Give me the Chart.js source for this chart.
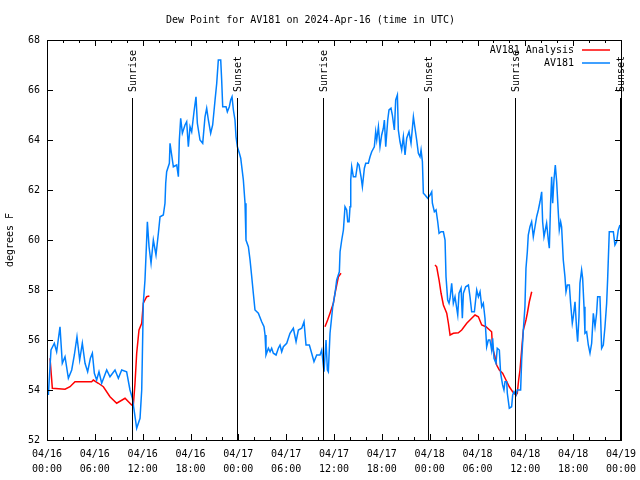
<!DOCTYPE html>
<html>
<head>
<meta charset="utf-8">
<script src="https://cdn.jsdelivr.net/npm/chart.js@4.4.1/dist/chart.umd.min.js"></script>
<style>
  html, body { margin: 0; padding: 0; background: #fff; }
  canvas { display: block; }
</style>
</head>
<body>
<canvas id="dewChart" width="640" height="480"></canvas>
<script>
// hours since 04/16 00:00 UTC
const stationHours = [
  0.17, 0.50, 0.92, 1.21, 1.63, 1.92, 2.26, 2.68, 3.10, 3.43, 3.76, 4.10, 4.43, 4.77, 5.10, 5.44,
  5.69, 5.94, 6.23, 6.52, 6.86, 7.49, 7.90, 8.53, 8.95, 9.37, 9.99, 10.41, 10.71, 11.25, 11.67, 11.88,
  11.96, 12.08, 12.29, 12.50, 12.59, 12.80, 13.05, 13.34, 13.67, 13.97, 14.18, 14.59, 14.80, 14.89, 15.01, 15.35,
  15.43, 15.85, 16.27, 16.48, 16.60, 16.77, 16.98, 17.31, 17.52, 17.73, 17.94, 18.15, 18.44, 18.69, 18.86, 19.19,
  19.53, 19.82, 20.03, 20.24, 20.53, 20.78, 21.08, 21.29, 21.49, 21.79, 21.91, 22.04, 22.46, 22.62, 22.87, 23.04,
  23.21, 23.38, 23.58, 23.71, 23.88, 24.13, 24.30, 24.63, 24.84, 24.96, 25.26, 25.47, 25.68, 25.88, 26.09, 26.51,
  26.93, 27.22, 27.35, 27.47, 27.77, 27.98, 28.18, 28.39, 28.73, 29.02, 29.23, 29.44, 29.65, 30.07, 30.48, 30.90,
  31.24, 31.53, 31.95, 32.24, 32.49, 32.91, 33.20, 33.49, 33.83, 34.25, 34.46, 34.75, 35.00, 35.17, 35.29, 35.50,
  35.84, 36.13, 36.34, 36.67, 36.76, 36.97, 37.18, 37.38, 37.59, 37.72, 37.89, 38.01, 38.10, 38.22, 38.43, 38.72,
  38.97, 39.14, 39.39, 39.56, 39.81, 39.98, 40.31, 40.52, 40.73, 41.06, 41.23, 41.36, 41.57, 41.77, 41.98, 42.19,
  42.32, 42.49, 42.74, 42.90, 43.15, 43.32, 43.57, 43.74, 43.95, 44.07, 44.28, 44.49, 44.70, 44.91, 45.12, 45.41,
  45.66, 45.96, 46.16, 46.37, 46.58, 46.79, 46.92, 47.09, 47.21, 47.42, 47.75, 48.05, 48.26, 48.34, 48.59, 48.80,
  49.01, 49.18, 49.43, 49.72, 49.93, 50.05, 50.26, 50.43, 50.56, 50.76, 50.97, 51.18, 51.39, 51.52, 51.68, 51.94,
  52.10, 52.23, 52.52, 52.86, 53.06, 53.27, 53.61, 53.90, 54.11, 54.32, 54.53, 54.73, 54.94, 55.15, 55.36, 55.56,
  55.77, 55.90, 56.07, 56.32, 56.48, 56.74, 56.90, 57.15, 57.32, 57.45, 57.66, 57.74, 57.99, 58.28, 58.41, 58.58,
  58.83, 58.99, 59.41, 59.54, 59.75, 59.95, 60.08, 60.25, 60.37, 60.58, 60.79, 61.00, 61.21, 61.42, 61.63, 61.84,
  62.05, 62.17, 62.34, 62.67, 62.88, 63.01, 63.17, 63.30, 63.43, 63.59, 63.76, 63.93, 64.14, 64.26, 64.43, 64.55,
  64.76, 64.97, 65.10, 65.27, 65.52, 65.68, 65.89, 66.02, 66.23, 66.44, 66.56, 66.73, 66.85, 67.06, 67.19, 67.36,
  67.48, 67.69, 67.90, 68.11, 68.32, 68.53, 68.74, 68.94, 69.07, 69.36, 69.57, 69.78, 69.99, 70.20, 70.32, 70.53,
  70.83, 71.04, 71.24, 71.45, 71.66, 71.87
];
const stationDew = [
  53.80, 55.60, 55.87, 55.53, 56.53, 55.07, 55.33, 54.47, 54.80, 55.40, 56.13, 55.20, 55.87, 55.07, 54.73, 55.27,
  55.47, 54.67, 54.40, 54.73, 54.27, 54.80, 54.53, 54.80, 54.47, 54.80, 54.73, 54.00, 53.67, 52.47, 52.87, 54.00,
  55.33, 57.47, 58.40, 60.00, 60.73, 59.73, 59.07, 60.00, 59.40, 60.27, 60.93, 61.00, 61.47, 62.27, 62.73, 63.07,
  63.87, 62.93, 63.00, 62.53, 64.00, 64.87, 64.27, 64.60, 64.73, 63.73, 64.53, 64.33, 65.13, 65.73, 64.67, 64.00,
  63.87, 64.93, 65.27, 64.80, 64.27, 64.60, 65.60, 66.27, 67.20, 67.20, 66.40, 65.33, 65.33, 65.13, 65.33, 65.60,
  65.73, 65.20, 64.80, 64.13, 63.73, 63.47, 63.27, 62.40, 61.47, 60.00, 59.73, 59.20, 58.53, 57.87, 57.20, 57.07,
  56.73, 56.53, 56.20, 55.40, 55.67, 55.53, 55.67, 55.47, 55.40, 55.67, 55.80, 55.53, 55.73, 55.87, 56.27, 56.47,
  55.93, 56.40, 56.47, 56.73, 55.80, 55.80, 55.47, 55.13, 55.40, 55.40, 55.60, 54.73, 56.00, 54.80, 54.73, 56.27,
  57.33, 57.87, 58.40, 58.73, 59.53, 60.00, 60.40, 61.33, 61.20, 60.73, 60.73, 61.33, 62.40, 62.93, 62.53, 62.53,
  63.07, 63.00, 62.53, 62.13, 62.87, 63.07, 63.07, 63.33, 63.53, 63.73, 64.33, 64.00, 64.53, 63.73, 64.20, 64.47,
  64.80, 63.73, 64.80, 65.20, 65.27, 65.00, 64.40, 65.60, 65.80, 64.40, 63.93, 63.60, 64.13, 63.40, 64.07, 64.33,
  63.87, 64.93, 64.47, 64.00, 63.47, 63.33, 63.60, 63.13, 61.87, 61.80, 61.67, 61.80, 61.93, 61.47, 61.13, 61.20,
  60.73, 60.27, 60.33, 60.33, 60.00, 58.53, 57.60, 57.47, 57.67, 58.27, 57.47, 57.73, 57.27, 57.00, 57.87, 58.07,
  56.87, 57.87, 58.13, 58.20, 57.73, 57.13, 57.13, 58.00, 57.73, 57.93, 57.33, 57.47, 56.87, 55.73, 56.00, 56.00,
  55.60, 56.07, 55.27, 55.07, 55.67, 55.60, 54.67, 54.20, 54.00, 54.33, 54.33, 53.87, 53.27, 53.33, 53.80, 53.93,
  53.80, 54.00, 54.00, 55.20, 56.40, 57.33, 58.87, 59.53, 60.20, 60.53, 60.73, 60.13, 60.53, 60.93, 61.20, 61.53,
  61.93, 60.73, 60.13, 60.67, 60.00, 59.67, 61.47, 62.53, 61.47, 62.40, 63.00, 62.33, 61.07, 60.40, 60.73, 60.53,
  59.20, 58.53, 57.93, 58.20, 58.20, 57.47, 56.67, 56.93, 57.53, 56.40, 55.93, 56.93, 58.27, 58.80, 58.47, 57.33,
  56.27, 56.33, 55.80, 55.47, 55.87, 57.07, 56.53, 57.07, 57.73, 57.73, 55.67, 55.80, 56.53, 57.47, 58.40, 60.33,
  60.33, 60.33, 59.80, 59.93, 60.40, 60.60
];

// analysis series, null = gap between runs
const analysisHours = [
  0.38, 0.67, 2.26, 2.89, 3.51, 5.60, 5.81, 6.44, 7.07, 7.90, 8.74, 9.79, 10.62, 10.83, 11.04, 11.25,
  11.54, 11.88, 12.08, 12.50, 12.84, 20,
  34.87, 35.20, 35.50, 35.92, 36.13, 36.55, 36.88, 42,
  48.67, 48.88, 49.18, 49.43, 49.72, 50.14, 50.35, 50.56, 50.97, 51.60, 52.02, 52.65, 53.27, 53.69, 54.11, 54.53,
  55.06, 55.77, 55.90, 56.19, 56.40, 56.74, 57.15, 57.57, 57.99, 58.41, 58.83, 58.99, 59.16, 59.33, 59.54, 59.75,
  60.08, 60.25, 60.50, 60.80
];
const analysisDew = [
  55.27, 54.07, 54.03, 54.13, 54.33, 54.33, 54.40, 54.27, 54.13, 53.73, 53.47, 53.67, 53.40, 53.40, 54.27, 55.47,
  56.40, 56.67, 57.47, 57.73, 57.76, null,
  56.53, 56.80, 57.07, 57.47, 57.87, 58.53, 58.67, null,
  59.00, 58.93, 58.40, 57.87, 57.40, 57.07, 56.67, 56.20, 56.27, 56.29, 56.40, 56.67, 56.87, 57.00, 56.93, 56.60,
  56.53, 56.33, 55.67, 55.33, 55.00, 54.80, 54.67, 54.40, 54.13, 53.93, 53.80, 53.87, 54.40, 54.80, 55.60, 56.40,
  56.80, 57.07, 57.53, 57.93
];

const sunEventHours = [10.71, 23.79, 34.68, 47.84, 58.72, 71.88];
const sunEventNames = ['Sunrise', 'Sunset', 'Sunrise', 'Sunset', 'Sunrise', 'Sunset'];

const seriesNames = ['AV181 Analysis', 'AV181'];
const seriesColors = ['#ff0000', '#0080ff'];

const FONT = '"DejaVu Sans Mono", "Liberation Mono", monospace';

const toPoints = (xs, ys) => xs.map((x, i) => ({ x, y: ys[i] }));

function tickLabel(h) {
    const day = 16 + Math.floor(h / 24);
    const hr = h % 24;
    return ['04/' + day, String(hr).padStart(2, '0') + ':00'];
}

const gnuplotDecor = {
    id: 'gnuplotDecor',
    afterDraw(chart) {
        const { ctx, chartArea: a, scales: { x, y } } = chart;
        ctx.save();
        ctx.strokeStyle = '#000';
        ctx.lineWidth = 1;

        // inward tick marks on all four sides
        ctx.beginPath();
        for (let h = x.min; h <= x.max; h += 2) {
            const px = Math.round(x.getPixelForValue(h)) + 0.5;
            const len = h % 6 === 0 ? 6 : 3;
            ctx.moveTo(px, a.bottom); ctx.lineTo(px, a.bottom - len);
            ctx.moveTo(px, a.top); ctx.lineTo(px, a.top + len);
        }
        for (let v = y.min; v <= y.max; v += 2) {
            const py = Math.round(y.getPixelForValue(v)) + 0.5;
            ctx.moveTo(a.left, py); ctx.lineTo(a.left + 6, py);
            ctx.moveTo(a.right, py); ctx.lineTo(a.right - 6, py);
        }
        ctx.stroke();

        // sunrise / sunset markers
        ctx.font = '10px ' + FONT;
        ctx.fillStyle = '#000';
        sunEventHours.forEach((h, i) => {
            const px = Math.round(x.getPixelForValue(h)) + 0.5;
            ctx.beginPath();
            ctx.moveTo(px, a.top + 58);
            ctx.lineTo(px, a.bottom);
            ctx.stroke();
            ctx.save();
            ctx.translate(px + 1, a.top + 52);
            ctx.rotate(-Math.PI / 2);
            ctx.textAlign = 'left';
            ctx.textBaseline = 'middle';
            ctx.fillText(sunEventNames[i], 0, 0);
            ctx.restore();
        });

        // key, top right inside the plot
        ctx.textAlign = 'right';
        ctx.textBaseline = 'middle';
        seriesNames.forEach((name, i) => {
            const ty = a.top + 10 + i * 13;
            ctx.fillStyle = '#000';
            ctx.fillText(name, a.right - 47, ty);
            ctx.strokeStyle = seriesColors[i];
            ctx.lineWidth = 1.5;
            ctx.beginPath();
            ctx.moveTo(a.right - 39, ty);
            ctx.lineTo(a.right - 11, ty);
            ctx.stroke();
        });

        // plot frame
        ctx.strokeStyle = '#000';
        ctx.lineWidth = 1;
        ctx.strokeRect(Math.round(a.left) + 0.5, Math.round(a.top) + 0.5,
            Math.round(a.right - a.left), Math.round(a.bottom - a.top));
        ctx.restore();
    }
};

new Chart(document.getElementById('dewChart'), {
    type: 'line',
    data: {
        datasets: [{
            label: seriesNames[1],
            data: toPoints(stationHours, stationDew),
            borderColor: seriesColors[1],
            borderWidth: 1.5,
            pointRadius: 0,
            tension: 0,
            fill: false,
        }, {
            label: seriesNames[0],
            data: toPoints(analysisHours, analysisDew),
            borderColor: seriesColors[0],
            borderWidth: 1.5,
            pointRadius: 0,
            tension: 0,
            fill: false,
            spanGaps: false,
        }]
    },
    options: {
        responsive: false,
        animation: false,
        layout: { padding: { right: 19, left: 0, top: 0, bottom: 0 } },
        plugins: {
            legend: { display: false },
            tooltip: { enabled: false },
            title: {
                display: true,
                text: 'Dew Point for AV181 on 2024-Apr-16 (time in UTC)',
                color: '#000',
                font: { family: FONT, size: 10, weight: 'normal', lineHeight: 1.2 },
                padding: { top: 14, bottom: 14 }
            }
        },
        scales: {
            x: {
                type: 'linear',
                min: 0,
                max: 72,
                afterFit: s => {
                    s.height = 40;
                    s.paddingLeft = 0;
                    s.paddingRight = 0;
                },
                grid: { display: false, drawTicks: false },
                border: { display: false },
                ticks: {
                    stepSize: 2,
                    autoSkip: false,
                    maxRotation: 0,
                    padding: 7,
                    color: '#000',
                    font: { family: FONT, size: 10, lineHeight: 1.5 },
                    callback: v => v % 6 === 0 ? tickLabel(v) : ''
                }
            },
            y: {
                min: 52,
                max: 68,
                afterFit: s => { s.width = 47; },
                grid: { display: false, drawTicks: false },
                border: { display: false },
                ticks: {
                    stepSize: 2,
                    padding: 7,
                    color: '#000',
                    font: { family: FONT, size: 10 }
                },
                title: {
                    display: true,
                    text: 'degrees F',
                    color: '#000',
                    font: { family: FONT, size: 10, lineHeight: 1.2 },
                    padding: { top: 4, bottom: 0 }
                }
            }
        }
    },
    plugins: [gnuplotDecor]
});
</script>
</body>
</html>
